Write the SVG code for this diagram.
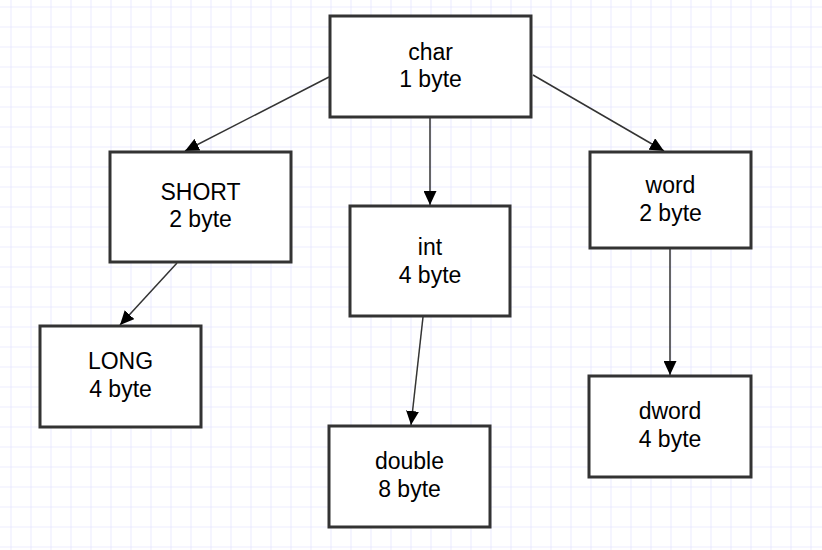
<svg xmlns="http://www.w3.org/2000/svg" width="822" height="550" viewBox="0 0 822 550">
<defs>
<style>
.node rect{fill:#fff;stroke:#333;stroke-width:3}
.node text{font-family:"Liberation Sans",Arial,sans-serif;font-size:23px;fill:#000;text-anchor:middle}
.edges line{stroke:#333;stroke-width:1.5;marker-end:url(#arr)}
</style>
<pattern id="gp" width="20" height="20" patternUnits="userSpaceOnUse" x="10.5" y="6.5">
<path d="M0 0H20M0 0V20" stroke="#e6e6ff" stroke-width="1.6" fill="none"/>
</pattern>
<marker id="arr" markerUnits="userSpaceOnUse" markerWidth="15" markerHeight="13" refX="14" refY="6.5" orient="auto">
<path d="M0 0L14 6.5L0 13Z" fill="#000"/>
</marker>
</defs>
<rect width="822" height="550" fill="#fff"/>
<rect width="822" height="550" fill="url(#gp)"/>
<g id="edges" class="edges">
<line x1="329" y1="77" x2="185" y2="151"/>
<line x1="430" y1="118" x2="430" y2="205"/>
<line x1="533" y1="75" x2="664" y2="151"/>
<line x1="177" y1="263" x2="120" y2="325"/>
<line x1="423" y1="317" x2="411" y2="425"/>
<line x1="670" y1="249" x2="670" y2="375"/>
</g>
<g id="n-char" class="node">
<rect x="330" y="16" width="201" height="101"/>
<text x="430.5" y="60">char</text>
<text x="430.5" y="87">1 byte</text>
</g>
<g id="n-short" class="node">
<rect x="110" y="152" width="181" height="110"/>
<text x="200.5" y="200">SHORT</text>
<text x="200.5" y="227">2 byte</text>
</g>
<g id="n-int" class="node">
<rect x="350" y="206" width="160" height="110"/>
<text x="430" y="255">int</text>
<text x="430" y="283">4 byte</text>
</g>
<g id="n-word" class="node">
<rect x="590" y="152" width="161" height="96"/>
<text x="670.5" y="193">word</text>
<text x="670.5" y="221">2 byte</text>
</g>
<g id="n-long" class="node">
<rect x="40" y="326" width="161" height="101"/>
<text x="120.5" y="369">LONG</text>
<text x="120.5" y="397">4 byte</text>
</g>
<g id="n-double" class="node">
<rect x="329" y="426" width="161" height="101"/>
<text x="409.5" y="469">double</text>
<text x="409.5" y="497">8 byte</text>
</g>
<g id="n-dword" class="node">
<rect x="589" y="376" width="162" height="101"/>
<text x="670" y="419">dword</text>
<text x="670" y="447">4 byte</text>
</g>
</svg>
